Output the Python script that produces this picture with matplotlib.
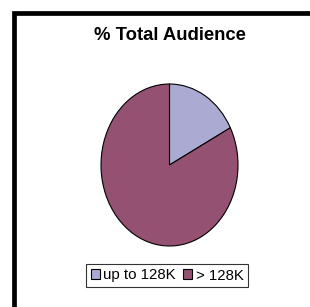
import matplotlib
matplotlib.use("Agg")
import matplotlib.pyplot as plt
from matplotlib.patches import Rectangle, Patch

labels = ["up to 128K", "> 128K"]
shares = [17.4, 82.6]
colors = ["#aaaad2", "#955171"]

W, H = 310, 307
fig = plt.figure(figsize=(W / 100, H / 100), dpi=100)
fig.patch.set_facecolor("white")
plt.rcParams['font.family'] = ['Liberation Sans', 'DejaVu Sans']

# thick black frame, cut off at right and bottom
fig.patches.append(Rectangle((14.3 / W, -0.2), 1.5, 1 - 13.3 / H + 0.2,
                             transform=fig.transFigure, fill=False,
                             edgecolor="black", linewidth=3.4, zorder=5))

fig.text(170 / W, 1 - 35 / H, "% Total Audience", ha="center", va="center",
         fontsize=13.3, fontweight="bold")

ax = fig.add_axes([101 / W, (H - 246) / H, 137 / W, 162 / H])
ax.pie(shares, colors=colors, startangle=90, counterclock=False,
       wedgeprops=dict(edgecolor="black", linewidth=0.8))
ax.set_aspect("auto")
ax.set_xlim(-1, 1)
ax.set_ylim(-1, 1)
ax.axis("off")

handles = [Patch(facecolor=c, edgecolor="black", linewidth=0.8) for c in colors]
leg = fig.legend(handles, labels, loc="center", bbox_to_anchor=(167 / W, 1 - 275.5 / H),
                 ncol=2, fontsize=10.8, frameon=True, fancybox=False,
                 handlelength=0.6, handleheight=0.6, handletextpad=0.25,
                 columnspacing=0.45, borderpad=0.3, borderaxespad=0)
leg.get_frame().set_edgecolor("black")
leg.get_frame().set_linewidth(0.8)

fig.savefig("out.png", dpi=100)
